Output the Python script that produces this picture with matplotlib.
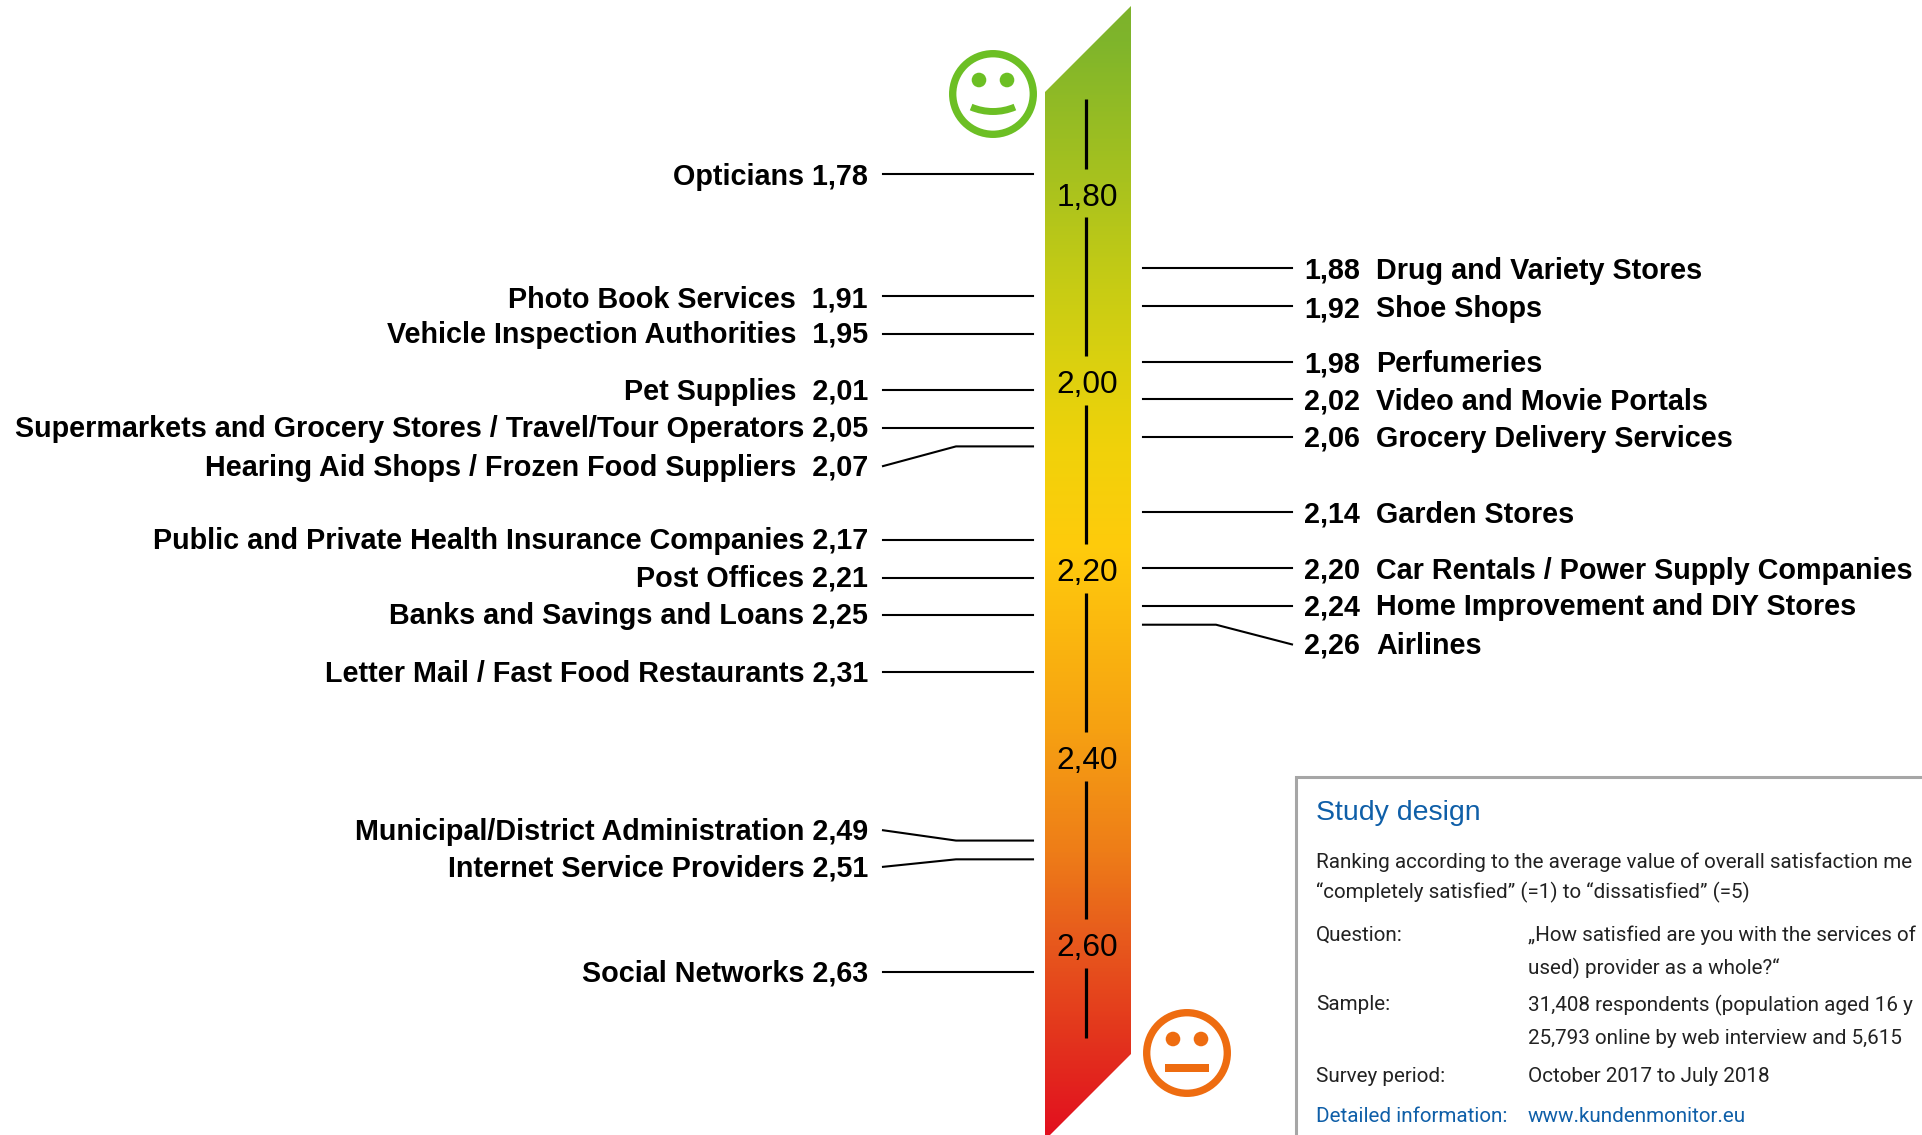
import numpy as np
import matplotlib
matplotlib.use("Agg")
import matplotlib.pyplot as plt
from matplotlib.colors import LinearSegmentedColormap
from matplotlib.patches import Polygon, Circle, Rectangle, Arc

W, H = 1922, 1135

left_names = ["Opticians", "Photo Book Services ", "Vehicle Inspection Authorities ", "Pet Supplies ",
              "Supermarkets and Grocery Stores / Travel/Tour Operators", "Hearing Aid Shops / Frozen Food Suppliers ",
              "Public and Private Health Insurance Companies", "Post Offices", "Banks and Savings and Loans",
              "Letter Mail / Fast Food Restaurants", "Municipal/District Administration",
              "Internet Service Providers", "Social Networks"]
left_values = [1.78, 1.91, 1.95, 2.01, 2.05, 2.07, 2.17, 2.21, 2.25, 2.31, 2.49, 2.51, 2.63]
left_label_at = [1.7815, 1.912, 1.95, 2.01, 2.05, 2.091, 2.169, 2.209, 2.249, 2.31, 2.479, 2.518, 2.63]

right_names = ["Drug and Variety Stores", "Shoe Shops", "Perfumeries", "Video and Movie Portals",
               "Grocery Delivery Services", "Garden Stores", "Car Rentals / Power Supply Companies",
               "Home Improvement and DIY Stores", "Airlines"]
right_values = [1.88, 1.92, 1.98, 2.02, 2.06, 2.14, 2.20, 2.24, 2.26]
right_label_at = [1.881, 1.9225, 1.981, 2.021, 2.06, 2.141, 2.201, 2.24, 2.281]

scale_ticks = [1.80, 2.00, 2.20, 2.40, 2.60]
scale_range = [1.70, 2.70]
tick_gap = 0.026

grad_pos = [0.0, 0.03, 0.25, 0.305, 0.39, 0.48, 0.644, 0.75, 0.814, 0.916, 1.0]
grad_col = ["#7DB22C", "#7FB52B", "#C8CC14", "#D8D010", "#F0D20A", "#FFCB0C", "#F6A012",
            "#EE7D18", "#E8601C", "#E3341D", "#E2101F"]

box_title = "Study design"
box_lines = ["Ranking according to the average value of overall satisfaction me",
             "“completely satisfied” (=1) to “dissatisfied” (=5)"]
box_keys = ["Question:", "Sample:", "Survey period:"]
box_vals = ["„How satisfied are you with the services of", "used) provider as a whole?“",
            "31,408 respondents (population aged 16 y", "25,793 online by web interview and 5,615",
            "October 2017 to July 2018"]
box_link_key = "Detailed information:"
box_link = "www.kundenmonitor.eu"

plt.rcParams["font.family"] = ["Liberation Sans", "DejaVu Sans"]

fig = plt.figure(figsize=(W / 100, H / 100), dpi=100, facecolor="white")

# pixel-space layer for decorations
px = fig.add_axes([0, 0, 1, 1], zorder=1)
px.set_xlim(0, W); px.set_ylim(H, 0); px.axis("off")

# data layer: x in pixels, y in satisfaction value
PX_PER_UNIT = 938.5
V0 = 1.80 - 193.0 / PX_PER_UNIT
ax = fig.add_axes([0, 0, 1, 1], zorder=2)
ax.set_xlim(0, W); ax.set_ylim(V0 + H / PX_PER_UNIT, V0); ax.axis("off"); ax.patch.set_alpha(0)

# gradient bar
cmap = LinearSegmentedColormap.from_list("bar", list(zip(grad_pos, grad_col)))
grad = np.linspace(0, 1, 512)[:, None]
im = px.imshow(grad, cmap=cmap, extent=[1045, 1131, 1135, 6], aspect="auto", interpolation="bilinear", zorder=1)
px.set_xlim(0, W); px.set_ylim(H, 0)
clip = Polygon([(1045, 92), (1131, 6), (1131, 1054), (1050, 1135), (1045, 1135)], closed=True,
               transform=px.transData, facecolor="none", edgecolor="none")
px.add_patch(clip)
im.set_clip_path(clip)

# scale line and tick labels
lo = scale_range[0]
for t in scale_ticks:
    ax.plot([1086, 1086], [lo, t - tick_gap], color="black", lw=2.3, solid_capstyle="butt", zorder=3)
    ax.text(1087.5, t + 12.7 / PX_PER_UNIT, f"{t:.2f}".replace(".", ","), ha="center", va="baseline",
            fontsize=22.8, color="black", zorder=4)
    lo = t + tick_gap
ax.plot([1086, 1086], [lo, scale_range[1]], color="black", lw=2.3, solid_capstyle="butt", zorder=3)

LW = 1.5
FS = 20.7
BASE = 9.5 / PX_PER_UNIT
ELBOW = 0.005
# left labels
for n, v, at in zip(left_names, left_values, left_label_at):
    txt = f"{n} {v:.2f}".replace(".", ",")
    ax.text(868, at + BASE, txt, ha="right", va="baseline", fontsize=FS, fontweight="bold", color="black")
    if abs(at - v) < ELBOW:
        ax.plot([883, 1033], [v, v], color="black", lw=LW)
    else:
        ax.plot([883, 956, 1033], [at, v, v], color="black", lw=LW)

# right labels
for n, v, at in zip(right_names, right_values, right_label_at):
    ax.text(1304, at + BASE, f"{v:.2f}".replace(".", ","), ha="left", va="baseline", fontsize=FS, fontweight="bold", color="black")
    ax.text(1376, at + BASE, n, ha="left", va="baseline", fontsize=FS, fontweight="bold", color="black")
    if abs(at - v) < ELBOW:
        ax.plot([1143, 1292], [v, v], color="black", lw=LW)
    else:
        ax.plot([1143, 1216, 1292], [v, v, at], color="black", lw=LW)

# smileys
GREEN = "#6CBF24"; ORANGE = "#EE6C10"
px.add_patch(Circle((993, 94), 40.3, facecolor="white", edgecolor=GREEN, lw=5.3, zorder=3))
for ex in (979, 1007):
    px.add_patch(Circle((ex, 80), 7.3, facecolor=GREEN, edgecolor="none", zorder=4))
px.add_patch(Arc((993, 55.5), 112, 112, theta1=67, theta2=113, edgecolor=GREEN, lw=5, zorder=4))
px.add_patch(Circle((1187, 1053), 40.3, facecolor="white", edgecolor=ORANGE, lw=5.3, zorder=3))
for ex in (1173, 1201):
    px.add_patch(Circle((ex, 1039), 7.3, facecolor=ORANGE, edgecolor="none", zorder=4))
px.add_patch(Rectangle((1165, 1064), 44, 8, facecolor=ORANGE, edgecolor="none", zorder=4))

# study design box
px.add_patch(Rectangle((1296, 777), 800, 500, facecolor="white", edgecolor="#A6A6A6", lw=2.2, zorder=2))
BLUE = "#0F5FA8"; INK = "#222222"
kw = dict(ha="left", va="center", family="Roboto", zorder=5)
px.text(1316, 813, box_title, color=BLUE, fontsize=20.5, ha="left", va="center", zorder=5)
bf = 14.9
px.text(1316, 862, box_lines[0], color=INK, fontsize=bf, **kw)
px.text(1316, 892, box_lines[1], color=INK, fontsize=bf, **kw)
px.text(1316, 935, box_keys[0], color=INK, fontsize=bf, **kw)
px.text(1528, 935, box_vals[0], color=INK, fontsize=bf, **kw)
px.text(1528, 968, box_vals[1], color=INK, fontsize=bf, **kw)
px.text(1316, 1005, box_keys[1], color=INK, fontsize=bf, **kw)
px.text(1528, 1005, box_vals[2], color=INK, fontsize=bf, **kw)
px.text(1528, 1038, box_vals[3], color=INK, fontsize=bf, **kw)
px.text(1316, 1077, box_keys[2], color=INK, fontsize=bf, **kw)
px.text(1528, 1077, box_vals[4], color=INK, fontsize=bf, **kw)
px.text(1316, 1116, box_link_key, color=BLUE, fontsize=bf, **kw)
px.text(1528, 1116, box_link, color=BLUE, fontsize=bf, **kw)

fig.savefig("out.png", dpi=100, facecolor="white")
